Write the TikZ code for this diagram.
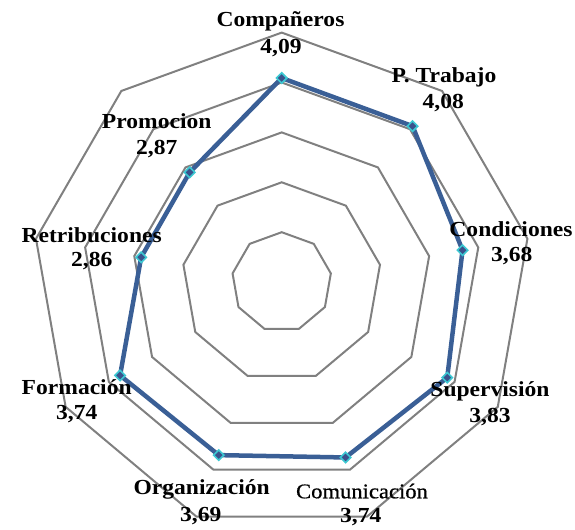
\documentclass[tikz,border=0pt]{standalone}
\usepackage{fontspec}
\setmainfont[FakeStretch=1.1]{Liberation Serif}
\newfontfamily\semifont[FakeStretch=1.08,FakeBold=0.6]{Liberation Serif}
\usetikzlibrary{shapes.geometric}
\definecolor{ringgray}{RGB}{128,128,128}
\definecolor{serieblue}{RGB}{58,95,150}
\definecolor{markfill}{RGB}{58,82,140}
\definecolor{markedge}{RGB}{60,200,210}
\tikzset{
  ring/.style={draw=ringgray, line width=2bp, line join=miter},
  serie/.style={draw=serieblue, line width=4.5bp, line join=round},
  dmark/.style={diamond, aspect=1, inner sep=0pt, minimum width=11bp, minimum height=11bp, fill=markfill, draw=markedge, line width=1.6bp},
  lbl/.style={anchor=base, inner sep=0pt, font=\fontsize{21.5}{25}\selectfont\bfseries},
  lblreg/.style={anchor=base, inner sep=0pt, font=\fontsize{21}{25}\semifont}
}
\begin{document}
\begin{tikzpicture}[x=1bp,y=1bp]
\useasboundingbox (0,0) rectangle (575,530);
\begin{scope}[shift={(281.7,247.9)}]
  \foreach \r in {1,...,5}{
    \draw[ring] (90:\r*49.9) -- (50:\r*49.9) -- (10:\r*49.9) -- (-30:\r*49.9) -- (-70:\r*49.9) -- (-110:\r*49.9) -- (-150:\r*49.9) -- (-190:\r*49.9) -- (-230:\r*49.9) -- cycle;
  }
  \coordinate (p0) at (90:4.09*49.9);
  \coordinate (p1) at (50:4.08*49.9);
  \coordinate (p2) at (10:3.68*49.9);
  \coordinate (p3) at (-30:3.83*49.9);
  \coordinate (p4) at (-70:3.74*49.9);
  \coordinate (p5) at (-110:3.69*49.9);
  \coordinate (p6) at (-150:3.74*49.9);
  \coordinate (p7) at (-190:2.86*49.9);
  \coordinate (p8) at (-230:2.87*49.9);
\end{scope}
\draw[serie] (p0) -- (p1) -- (p2) -- (p3) -- (p4) -- (p5) -- (p6) -- (p7) -- (p8) -- cycle;
\foreach \i in {0,...,8}{
  \node[dmark] (m\i) at (p\i) {};
}
% labels
\node[lbl] (l0) at (280.5,503.3) {Compañeros};
\node[lbl] (v0) at (281,476.7) {4,09};
\node[lbl] (l1) at (444,447.3) {P. Trabajo};
\node[lbl] (v1) at (443.3,421.7) {4,08};
\node[lbl] (l2) at (511,293.3) {Condiciones};
\node[lbl] (v2) at (511.7,268.3) {3,68};
\node[lbl] (l3) at (490,133.3) {Supervisión};
\node[lbl] (v3) at (490,107.3) {3,83};
\node[lblreg] (l4) at (362,31.7) {Comunicación};
\node[lbl] (v4) at (360.8,7) {3,74};
\node[lbl] (l5) at (201.7,35) {Organización};
\node[lbl] (v5) at (200.8,8.3) {3,69};
\node[lbl] (l6) at (76.7,135.7) {Formación};
\node[lbl] (v6) at (76.7,110) {3,74};
\node[lbl] (l7) at (91.7,287.3) {Retribuciones};
\node[lbl] (v7) at (91.7,263.3) {2,86};
\node[lbl] (l8) at (156.7,401.7) {Promocion};
\node[lbl] (v8) at (156.7,375.7) {2,87};
\end{tikzpicture}
\end{document}
